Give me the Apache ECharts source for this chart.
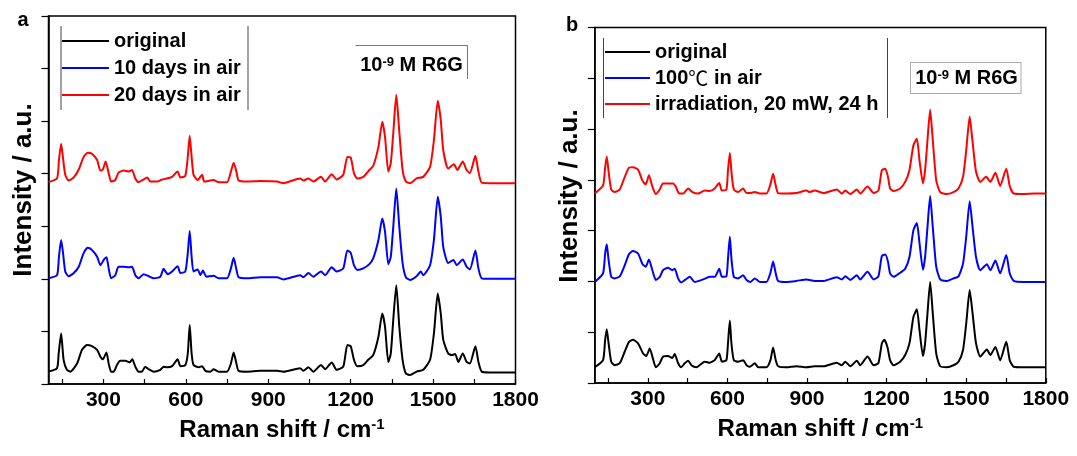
<!DOCTYPE html>
<html>
<head>
<meta charset="utf-8">
<title>SERS spectra of R6G</title>
<script src="https://cdn.jsdelivr.net/npm/echarts@6/dist/echarts.min.js"></script>
<style>
  html, body { margin: 0; padding: 0; background: #fff; }
  #chart { width: 1077px; height: 456px; }
</style>
</head>
<body>
<div id="chart"></div>
<script>
// Raman shift axis ticks (cm-1)
const xTickLabels = [300, 600, 900, 1200, 1500, 1800];
const xTickMarks = [150, 300, 450, 600, 750, 900, 1050, 1200, 1350, 1500, 1650, 1800];

// Legend entries
const legendA = ['original', '10 days in air', '20 days in air'];
const legendB = ['original', '100℃ in air', 'irradiation, 20 mW, 24 h'];

// Panel a: [Raman shift, stacked intensity]
const aOriginal = [
  [100,0.235],[131,0.30],[137,0.58],[146,0.96],[155,0.46],[167,0.27],[179,0.235],[204,0.39],[222,0.65],
  [240,0.74],[258,0.72],[277,0.65],[289,0.52],[298,0.47],[311,0.60],[319,0.39],[328,0.235],[337,0.235],
  [349,0.36],[361,0.44],[380,0.44],[395,0.41],[405,0.47],[416,0.33],[428,0.235],[440,0.235],[452,0.33],
  [465,0.28],[483,0.235],[507,0.27],[519,0.33],[531,0.32],[550,0.34],[570,0.47],[580,0.34],[598,0.36],
  [607,0.58],[614,1.12],[621,0.58],[628,0.36],[647,0.32],[659,0.34],[671,0.25],[689,0.235],[701,0.28],
  [719,0.235],[750,0.235],[764,0.39],[774,0.60],[784,0.39],[792,0.25],[823,0.235],[871,0.25],[932,0.25],
  [955,0.235],[1016,0.30],[1028,0.25],[1046,0.32],[1064,0.235],[1092,0.36],[1107,0.28],[1131,0.41],
  [1149,0.27],[1173,0.33],[1188,0.74],[1200,0.72],[1212,0.46],[1224,0.34],[1246,0.36],[1264,0.46],
  [1282,0.55],[1301,0.90],[1315,1.34],[1325,1.09],[1337,0.42],[1346,0.58],[1355,1.22],[1366,1.88],
  [1377,1.09],[1389,0.46],[1401,0.20],[1416,0.17],[1440,0.235],[1464,0.27],[1489,0.46],[1503,0.96],
  [1517,1.72],[1528,1.34],[1537,0.84],[1555,0.58],[1568,0.55],[1580,0.57],[1592,0.42],[1608,0.58],
  [1622,0.42],[1634,0.39],[1654,0.72],[1665,0.42],[1677,0.235],[1707,0.22],[1751,0.22],[1800,0.22]
];
const aTenDays = [
  [100,2.01],[131,2.07],[138,2.42],[146,2.74],[153,2.49],[161,2.14],[173,2.05],[192,2.11],[210,2.23],
  [228,2.49],[243,2.59],[258,2.55],[277,2.42],[289,2.26],[301,2.36],[311,2.41],[319,2.20],[328,2.01],
  [343,2.07],[355,2.23],[374,2.23],[392,2.22],[404,2.23],[416,2.07],[428,2.01],[446,2.09],[465,2.05],
  [483,2.01],[507,2.04],[519,2.19],[534,2.09],[550,2.14],[570,2.24],[580,2.11],[598,2.14],[607,2.49],
  [614,2.91],[621,2.42],[628,2.14],[643,2.18],[653,2.07],[662,2.16],[675,2.04],[701,2.06],[719,2.01],
  [750,2.01],[764,2.20],[774,2.40],[784,2.18],[792,2.03],[823,2.01],[871,2.03],[932,2.03],
  [955,1.99],[1016,2.07],[1028,2.03],[1046,2.11],[1064,2.04],[1092,2.14],[1107,2.07],[1131,2.22],
  [1149,2.14],[1173,2.20],[1188,2.54],[1200,2.50],[1212,2.26],[1224,2.17],[1246,2.20],[1268,2.28],
  [1282,2.39],[1301,2.74],[1315,3.15],[1325,2.90],[1337,2.28],[1346,2.42],[1355,2.99],[1366,3.72],
  [1377,2.99],[1389,2.30],[1401,2.03],[1416,1.98],[1440,2.05],[1455,2.14],[1464,2.07],[1489,2.26],
  [1503,2.74],[1517,3.56],[1528,3.18],[1537,2.61],[1555,2.30],[1574,2.36],[1586,2.26],[1608,2.37],
  [1622,2.23],[1634,2.18],[1654,2.54],[1665,2.20],[1677,2.01],[1707,2.00],[1751,2.00],[1800,2.00]
];
const aTwentyDays = [
  [100,3.84],[131,3.91],[138,4.26],[146,4.57],[153,4.29],[161,3.98],[173,3.87],[192,3.93],[210,4.08],
  [228,4.32],[243,4.40],[258,4.38],[277,4.26],[289,4.06],[298,4.08],[308,4.23],[319,4.01],[328,3.85],
  [343,3.88],[355,4.02],[374,4.06],[392,4.04],[404,4.07],[416,3.91],[428,3.84],[446,3.89],[459,3.93],
  [471,3.85],[495,3.85],[513,3.89],[531,3.91],[550,3.94],[570,4.04],[580,3.93],[598,3.96],[607,4.32],
  [614,4.72],[621,4.32],[628,3.98],[643,3.88],[659,3.98],[667,3.85],[701,3.88],[719,3.84],[750,3.84],
  [764,4.04],[774,4.21],[784,4.04],[792,3.87],[823,3.85],[871,3.86],[932,3.85],
  [955,3.82],[1016,3.91],[1028,3.87],[1046,3.91],[1064,3.85],[1092,3.94],[1107,3.85],[1131,3.99],
  [1149,3.89],[1173,3.98],[1188,4.32],[1200,4.31],[1212,4.01],[1224,3.91],[1246,3.94],[1268,4.07],
  [1282,4.15],[1301,4.51],[1315,4.99],[1325,4.70],[1337,4.04],[1346,4.20],[1355,4.77],[1366,5.50],
  [1377,4.80],[1389,4.07],[1401,3.85],[1416,3.82],[1440,3.91],[1464,3.94],[1489,4.13],[1503,4.64],
  [1517,5.39],[1528,5.02],[1537,4.45],[1555,4.10],[1576,4.18],[1588,4.07],[1608,4.23],[1622,4.07],
  [1634,4.01],[1654,4.34],[1665,4.04],[1677,3.83],[1707,3.82],[1751,3.82],[1800,3.82]
];

// Panel b: [Raman shift, stacked intensity]
const bOriginal = [
  [100,0.31],[131,0.45],[139,0.85],[145,1.06],[152,0.78],[162,0.42],[175,0.35],[194,0.39],[213,0.62],
  [229,0.81],[244,0.85],[263,0.78],[282,0.58],[294,0.53],[307,0.68],[317,0.52],[330,0.31],[345,0.39],
  [357,0.52],[376,0.53],[392,0.49],[401,0.57],[414,0.39],[426,0.31],[439,0.39],[452,0.44],[464,0.35],
  [483,0.31],[514,0.42],[533,0.40],[552,0.45],[569,0.58],[579,0.42],[596,0.45],[602,0.78],[609,1.23],
  [615,0.78],[624,0.45],[640,0.42],[659,0.45],[672,0.35],[684,0.32],[703,0.39],[716,0.31],[747,0.31],
  [762,0.45],[772,0.70],[782,0.45],[791,0.33],[822,0.31],[860,0.33],[898,0.31],[929,0.33],
  [962,0.33],[1012,0.40],[1031,0.35],[1044,0.42],[1063,0.33],[1088,0.44],[1100,0.35],[1128,0.52],
  [1151,0.35],[1169,0.39],[1182,0.78],[1191,0.85],[1203,0.71],[1213,0.45],[1226,0.35],[1251,0.42],
  [1270,0.55],[1286,0.78],[1301,1.30],[1314,1.45],[1324,1.04],[1337,0.53],[1345,0.78],[1354,1.37],
  [1364,1.99],[1374,1.37],[1387,0.58],[1402,0.33],[1427,0.31],[1452,0.35],[1471,0.42],[1488,0.65],
  [1500,1.17],[1513,1.83],[1524,1.37],[1537,0.78],[1553,0.52],[1578,0.66],[1591,0.55],[1610,0.71],
  [1628,0.45],[1651,0.81],[1664,0.45],[1679,0.32],[1716,0.31],[1757,0.31],[1800,0.31]
];
const bHeated = [
  [100,1.99],[131,2.16],[139,2.55],[145,2.73],[152,2.42],[162,2.09],[175,2.06],[194,2.10],[213,2.32],
  [229,2.54],[244,2.60],[263,2.55],[279,2.35],[292,2.29],[304,2.43],[317,2.22],[330,2.03],[345,2.09],
  [357,2.22],[376,2.27],[392,2.22],[401,2.25],[414,2.06],[426,1.98],[443,2.04],[458,2.09],[477,1.99],
  [508,2.04],[533,2.09],[552,2.09],[569,2.25],[579,2.09],[596,2.10],[602,2.45],[609,2.88],[615,2.45],
  [624,2.09],[640,2.06],[659,2.12],[672,2.03],[687,1.99],[703,2.06],[722,1.99],[747,1.99],[762,2.17],
  [772,2.39],[782,2.16],[791,2.01],[822,1.99],[860,2.01],[898,2.04],[929,2.01],
  [962,2.01],[1012,2.08],[1031,2.04],[1044,2.10],[1063,2.03],[1088,2.12],[1100,2.04],[1128,2.19],
  [1151,2.04],[1169,2.10],[1182,2.50],[1195,2.53],[1205,2.39],[1213,2.16],[1226,2.09],[1251,2.17],
  [1270,2.25],[1286,2.48],[1301,3.01],[1314,3.15],[1324,2.75],[1337,2.23],[1345,2.48],[1354,3.07],
  [1364,3.68],[1374,3.07],[1387,2.29],[1402,2.04],[1427,2.01],[1452,2.06],[1471,2.10],[1488,2.35],
  [1500,2.88],[1513,3.58],[1524,3.07],[1537,2.48],[1553,2.22],[1578,2.34],[1591,2.22],[1610,2.41],
  [1628,2.16],[1651,2.52],[1664,2.16],[1679,2.01],[1716,1.99],[1757,1.99],[1800,1.99]
];
const bIrradiated = [
  [100,3.73],[131,3.89],[139,4.25],[145,4.46],[152,4.16],[162,3.81],[175,3.76],[194,3.81],[213,4.06],
  [229,4.24],[244,4.25],[263,4.20],[279,3.99],[292,3.91],[304,4.09],[317,3.87],[330,3.72],[345,3.81],
  [357,3.93],[376,3.93],[395,3.93],[405,3.87],[418,3.73],[433,3.73],[452,3.83],[468,3.76],[489,3.73],
  [514,3.79],[533,3.78],[552,3.83],[569,3.94],[579,3.79],[596,3.81],[602,4.19],[609,4.53],[615,4.16],
  [624,3.81],[640,3.76],[659,3.83],[672,3.74],[687,3.74],[703,3.76],[722,3.73],[747,3.73],[762,3.91],
  [772,4.12],[782,3.89],[791,3.74],[822,3.73],[860,3.74],[898,3.79],[910,3.76],[929,3.79],
  [962,3.74],[1012,3.81],[1031,3.73],[1044,3.79],[1063,3.72],[1088,3.81],[1100,3.73],[1128,3.87],
  [1151,3.74],[1169,3.79],[1182,4.19],[1195,4.22],[1205,4.06],[1213,3.83],[1226,3.78],[1251,3.83],
  [1270,3.96],[1286,4.19],[1301,4.68],[1314,4.81],[1324,4.38],[1337,3.93],[1345,4.19],[1354,4.78],
  [1364,5.38],[1374,4.78],[1387,3.99],[1402,3.76],[1427,3.72],[1452,3.76],[1471,3.83],[1488,4.06],
  [1500,4.58],[1513,5.25],[1524,4.75],[1537,4.16],[1553,3.96],[1575,4.06],[1591,3.96],[1610,4.14],
  [1628,3.88],[1651,4.22],[1664,3.88],[1679,3.73],[1716,3.72],[1757,3.73],[1800,3.73]
];

const FONT = '"Liberation Sans", Arial, Helvetica, sans-serif';
const CJK = '"Noto Sans CJK SC", sans-serif';
const BLACK = '#000000', BLUE = '#0000ff', RED = '#ff0000';

const supStyle = { fontFamily: FONT, fontWeight: 'bold', fontSize: 13, color: '#000', verticalAlign: 'top', lineHeight: 13 };

function xAxisFor(gridIndex) {
  return {
    gridIndex, type: 'value', min: 100, max: 1800,
    axisLine: { show: true, onZero: false, lineStyle: { color: '#000', width: 1.5 } },
    axisTick: { show: true, inside: true, length: 5, customValues: xTickMarks, lineStyle: { color: '#000', width: 1.2 } },
    axisLabel: { customValues: xTickLabels, formatter: v => String(v),
      fontFamily: FONT, fontWeight: 'bold', fontSize: 21, color: '#000', margin: 6 },
    splitLine: { show: false },
    name: 'Raman shift / cm{sup|-1}', nameLocation: 'middle', nameGap: 33,
    nameTextStyle: { fontFamily: FONT, fontWeight: 'bold', fontSize: 24, color: '#000', lineHeight: 26,
      rich: { sup: { fontFamily: FONT, fontWeight: 'bold', fontSize: 15, color: '#000', verticalAlign: 'top', lineHeight: 15 } } }
  };
}
function yAxisFor(gridIndex) {
  return {
    gridIndex, type: 'value', min: 0, max: 7, interval: 1,
    axisLine: { show: true, onZero: false, lineStyle: { color: '#000', width: 1.5 } },
    axisTick: { show: true, inside: false, length: 7, lineStyle: { color: '#000', width: 1.2 } },
    axisLabel: { show: false },
    splitLine: { show: false }
  };
}
function spectrum(name, data, color, gi) {
  return {
    name, type: 'line', data, xAxisIndex: gi, yAxisIndex: gi,
    showSymbol: false, smooth: 0.2, silent: true,
    lineStyle: { color, width: 2 }, itemStyle: { color }
  };
}
function legendFor(data, left, top, itemWidth, itemGap) {
  return {
    data, orient: 'vertical', left, top, itemWidth, itemHeight: 2, itemGap, icon: 'rect',
    padding: 0, selectedMode: false,
    formatter: name => name.replace('℃', '{deg|℃}'),
    textStyle: { fontFamily: FONT, fontWeight: 'bold', fontSize: 20, color: '#000', lineHeight: 20,
      rich: { deg: { fontFamily: CJK, fontWeight: 'normal', fontSize: 20, color: '#000', lineHeight: 20 } } }
  };
}

const chart = echarts.init(document.getElementById('chart'), null, { renderer: 'canvas' });

chart.setOption({
  animation: false,
  backgroundColor: '#fff',
  grid: [
    { left: 48.5, top: 16, width: 467, height: 368, show: true, borderColor: '#000', borderWidth: 1.5, outerBoundsMode: 'none' },
    { left: 594.8, top: 27.5, width: 451, height: 355.5, show: true, borderColor: '#000', borderWidth: 1.5, outerBoundsMode: 'none' }
  ],
  xAxis: [xAxisFor(0), xAxisFor(1)],
  yAxis: [yAxisFor(0), yAxisFor(1)],
  legend: [
    legendFor(legendA, 62, 31, 47, 7),
    legendFor(legendB, 605, 42, 45, 6)
  ],
  series: [
    spectrum(legendA[0], aOriginal, BLACK, 0),
    spectrum(legendA[1], aTenDays, BLUE, 0),
    spectrum(legendA[2], aTwentyDays, RED, 0),
    spectrum(legendB[0], bOriginal, BLACK, 1),
    spectrum(legendB[1], bHeated, BLUE, 1),
    spectrum(legendB[2], bIrradiated, RED, 1)
  ],
  graphic: [
    // panel letters
    { type: 'text', x: 23, y: 20, style: { text: 'a', font: 'bold 20px ' + FONT, fill: '#000', align: 'center', verticalAlign: 'middle' } },
    { type: 'text', x: 572, y: 25, style: { text: 'b', font: 'bold 20px ' + FONT, fill: '#000', align: 'center', verticalAlign: 'middle' } },
    // vertical axis titles
    { type: 'text', x: 24, y: 190, rotation: Math.PI / 2, style: { text: 'Intensity / a.u.', font: 'bold 26px ' + FONT, fill: '#000', align: 'center', verticalAlign: 'middle' } },
    { type: 'text', x: 570, y: 196, rotation: Math.PI / 2, style: { text: 'Intensity / a.u.', font: 'bold 26px ' + FONT, fill: '#000', align: 'center', verticalAlign: 'middle' } },
    // legend frame edges
    { type: 'line', shape: { x1: 61, y1: 26, x2: 61, y2: 110 }, style: { stroke: '#444', lineWidth: 1 } },
    { type: 'line', shape: { x1: 248, y1: 26, x2: 248, y2: 110 }, style: { stroke: '#444', lineWidth: 1 } },
    { type: 'line', shape: { x1: 603.5, y1: 38, x2: 603.5, y2: 118 }, style: { stroke: '#444', lineWidth: 1 } },
    { type: 'line', shape: { x1: 887.5, y1: 38, x2: 887.5, y2: 118 }, style: { stroke: '#444', lineWidth: 1 } },
    // concentration labels
    { type: 'polyline', shape: { points: [[355.5, 45.5], [467.5, 45.5], [467.5, 79]] }, style: { stroke: '#777', lineWidth: 1, fill: null } },
    { type: 'text', x: 411.5, y: 65.5, style: { text: '10{sup|-9} M R6G', font: 'bold 20px ' + FONT, fill: '#000', align: 'center', verticalAlign: 'middle', rich: { sup: supStyle } } },
    { type: 'rect', shape: { x: 910.5, y: 62.5, width: 110.5, height: 31 }, style: { stroke: '#aaa', lineWidth: 1, fill: '#fff' } },
    { type: 'text', x: 966.5, y: 78.5, style: { text: '10{sup|-9} M R6G', font: 'bold 20px ' + FONT, fill: '#000', align: 'center', verticalAlign: 'middle', rich: { sup: supStyle } } }
  ]
});
</script>
</body>
</html>
